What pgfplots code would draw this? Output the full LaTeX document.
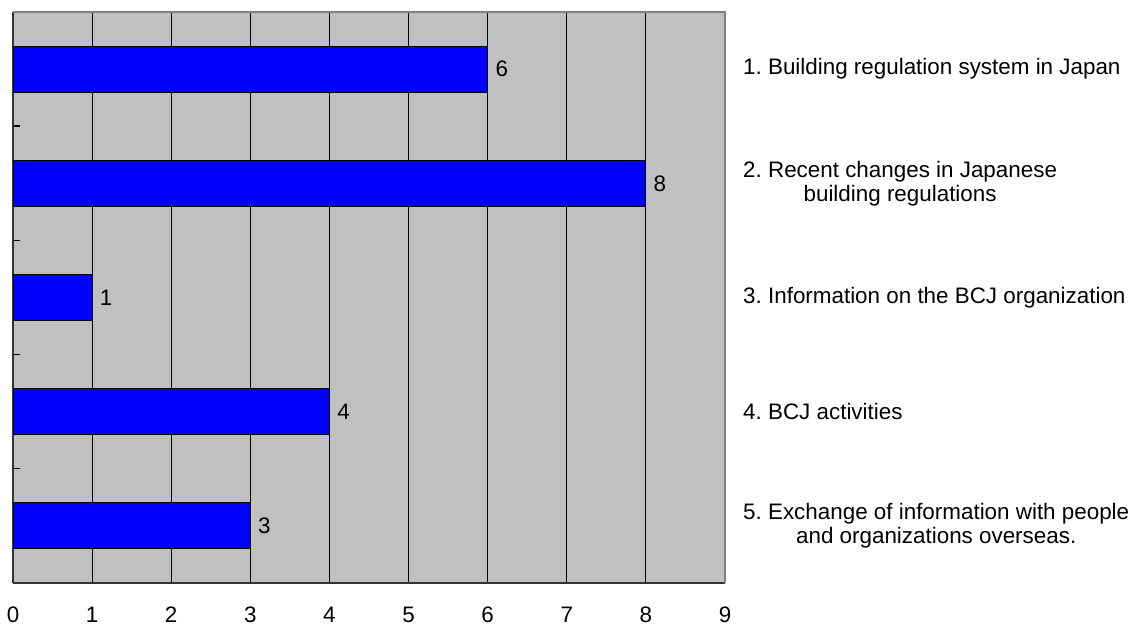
\documentclass[border=0pt]{standalone}
\usepackage{fontspec}
\setmainfont{Liberation Sans}
\usepackage{pgfplots}
\pgfplotsset{compat=1.18}
\definecolor{barblue}{RGB}{0,0,255}
\definecolor{plotgray}{RGB}{192,192,192}
\definecolor{framegray}{RGB}{128,128,128}
\newcommand\tlbl{\fontsize{22.4}{24}\selectfont}
\newcommand\lbl{\fontsize{22.4}{24}\selectfont\frenchspacing}
\begin{document}
\begin{tikzpicture}
\useasboundingbox (-13pt,-45pt) rectangle (1129pt,583pt);
\begin{axis}[
  at={(0,0)}, anchor=south west,
  scale only axis, width=712pt, height=571pt,
  xmin=0, xmax=9, ymin=0.5, ymax=5.5,
  xbar, bar width=46pt,
  separate axis lines,
  axis x line*=bottom, axis y line*=left,
  axis line style={line width=1.6pt, color=black!80},
  axis background/.style={fill=plotgray},
  xtick={0,...,9},
  xmajorgrids, major grid style={black, line width=0.9pt},
  x tick style={draw=none},
  ytick={0.5,1.5,...,5.5}, yticklabels={},
  y tick style={black, line width=1.4pt},
  tick align=inside, major tick length=7pt,
  /pgf/number format/assume math mode=true,
  xticklabel style={font=\tlbl, anchor=north, text height=16pt, text depth=0pt, yshift=-20pt},
  nodes near coords,
  every node near coord/.append style={font=\tlbl, anchor=west, xshift=4pt, black},
  clip=false,
  after end axis/.code={
    \draw[framegray, line width=1.2pt] (rel axis cs:0,1) -- (rel axis cs:1,1) -- (rel axis cs:1,0);
  },
]
\addplot[fill=barblue, draw=black, line width=1pt] coordinates {
(6,5)
(8,4)
(1,3)
(4,2)
(3,1)
};
\begin{scope}[every node/.style={font=\lbl, anchor=west, align=center, inner sep=0pt}]
\node at ([xshift=18pt]axis cs:9,5) {1. Building regulation system in Japan};
\node at ([xshift=18pt]axis cs:9,4) {2. Recent changes in Japanese\\building regulations};
\node at ([xshift=18pt]axis cs:9,3) {3. Information on the BCJ organization};
\node at ([xshift=18pt]axis cs:9,2) {4. BCJ activities};
\node at ([xshift=18pt]axis cs:9,1) {5. Exchange of information with people\\and organizations overseas.};
\end{scope}
\end{axis}
\end{tikzpicture}
\end{document}
